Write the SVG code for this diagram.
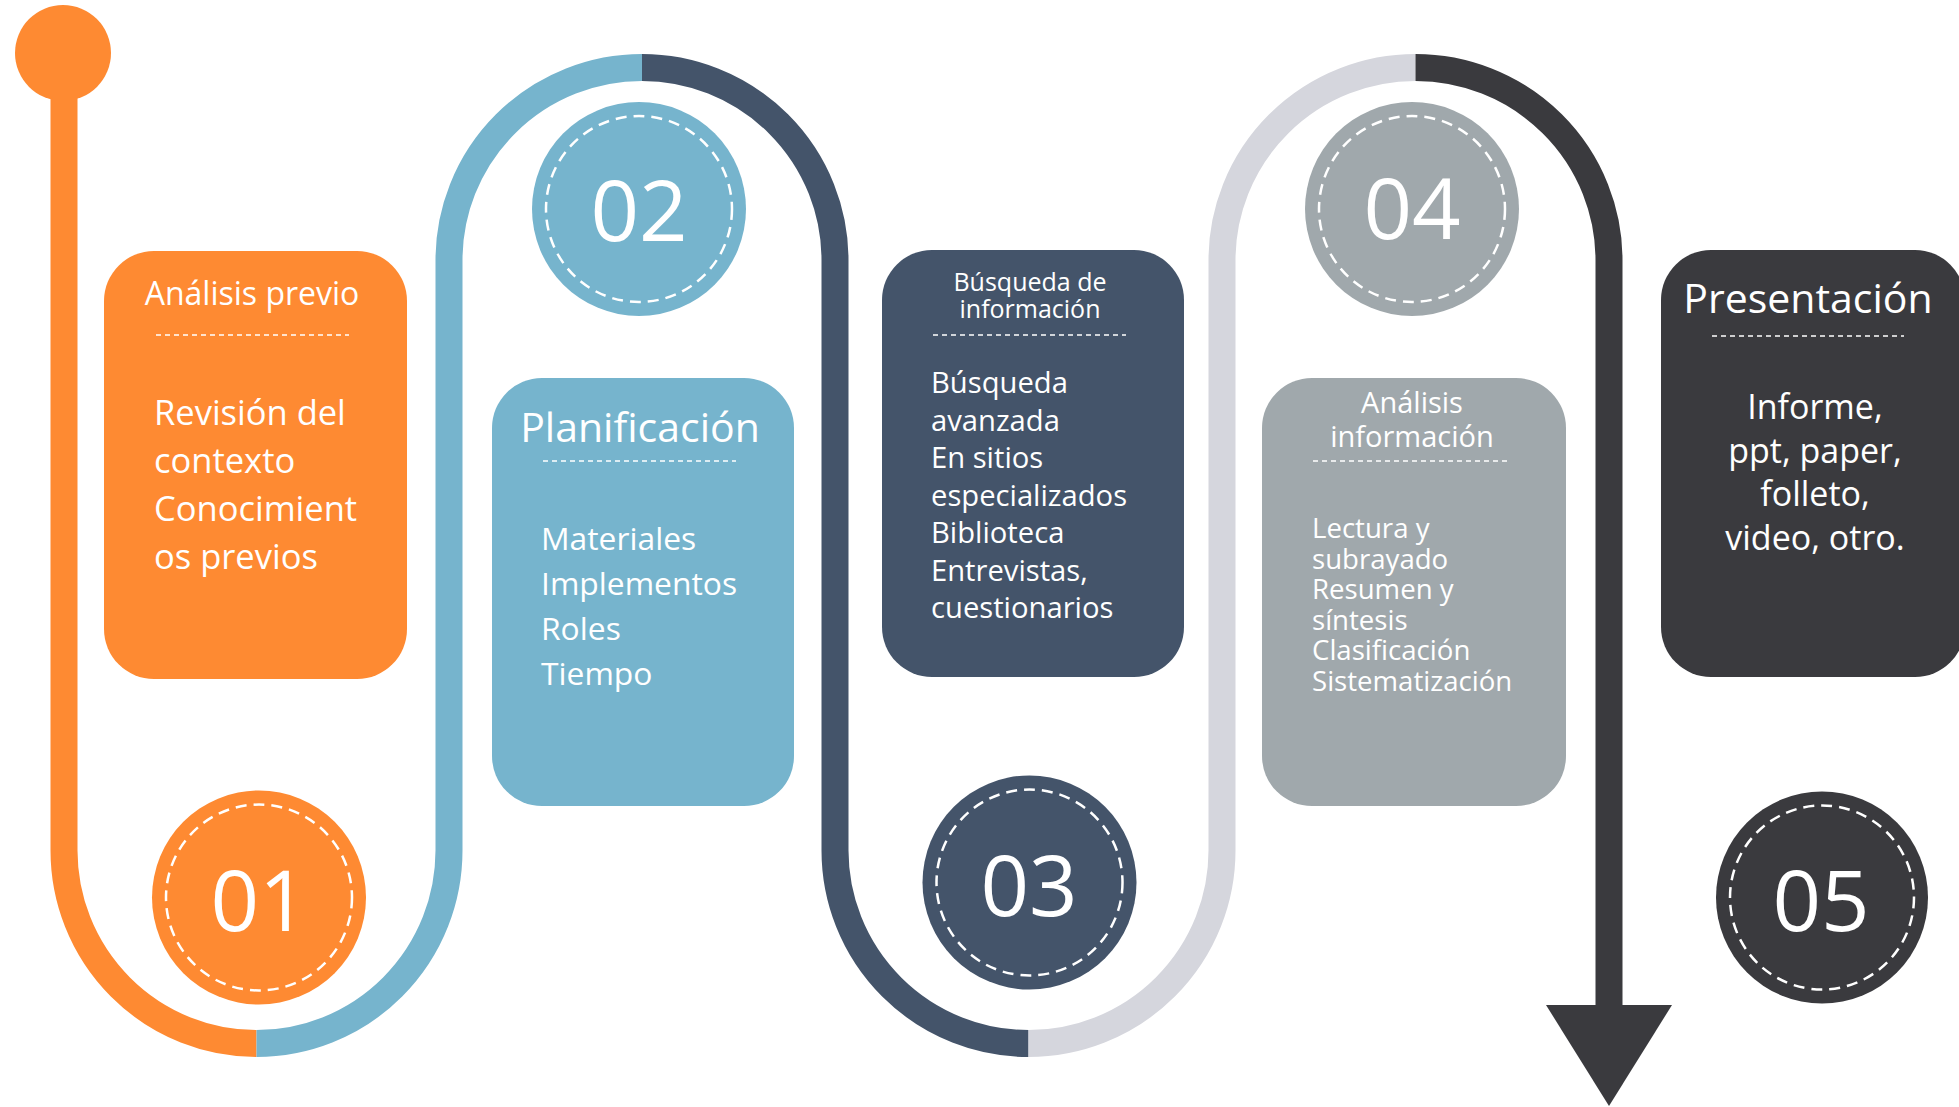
<svg xmlns="http://www.w3.org/2000/svg" width="1959" height="1107" viewBox="0 0 1959 1107">
<style>
text{font-family:"Open Sans","Noto Sans",sans-serif;fill:#fff}
.c{text-anchor:middle}
.num{font-size:85px;text-anchor:middle}
.track{fill:none;stroke-width:27}
.sep{stroke:#fff;stroke-width:1.3;stroke-dasharray:5 4;fill:none}
.ring{fill:none;stroke:#fff;stroke-width:2.5;stroke-dasharray:11 7}
</style>
<rect width="1959" height="1107" fill="#fff"/>
<g id="connectors">
<circle cx="63" cy="53" r="48" fill="#FE8A32"/>
<path class="track" stroke="#FE8A32" d="M64,53 V850.5 A192.5,193 0 0 0 256.5,1043.5"/>
<path class="track" stroke="#76B4CD" d="M256.5,1043.5 A192.5,193 0 0 0 449,850.5 V260 A193,192.5 0 0 1 642,67.5"/>
<path class="track" stroke="#44546A" d="M642,67.5 A193,192.5 0 0 1 835,260 V850.5 A193.5,193 0 0 0 1028.5,1043.5"/>
<path class="track" stroke="#D5D6DD" d="M1028.5,1043.5 A193.5,193 0 0 0 1222,850.5 V260 A193.5,192.5 0 0 1 1415.5,67.5"/>
<path class="track" stroke="#3A3A3E" d="M1415.5,67.5 A193.5,192.5 0 0 1 1609,260 V1006"/>
<polygon points="1546,1005 1672,1005 1609,1106" fill="#3A3A3E"/>
</g>
<g id="box1">
<rect x="104" y="251" width="303" height="428" rx="50" fill="#FE8A32"/>
<text class="c" x="252" y="305" font-size="32">Análisis previo</text>
<line class="sep" x1="156" y1="335" x2="349" y2="335"/>
<text font-size="34.5"><tspan x="154" y="425">Revisión del</tspan><tspan x="154" y="473">contexto</tspan><tspan x="154" y="521">Conocimient</tspan><tspan x="154" y="569">os previos</tspan></text>
</g>
<g id="box2">
<rect x="492" y="378" width="302" height="428" rx="50" fill="#76B4CD"/>
<text class="c" x="640" y="442" font-size="41">Planificación</text>
<line class="sep" x1="543" y1="461" x2="736" y2="461"/>
<text font-size="31.8"><tspan x="541" y="550">Materiales</tspan><tspan x="541" y="595">Implementos</tspan><tspan x="541" y="640">Roles</tspan><tspan x="541" y="685">Tiempo</tspan></text>
</g>
<g id="box3">
<rect x="882" y="250" width="302" height="427" rx="50" fill="#44546A"/>
<text class="c" font-size="25"><tspan x="1030" y="291">Búsqueda de</tspan><tspan x="1030" y="318">información</tspan></text>
<line class="sep" x1="933" y1="335" x2="1126" y2="335"/>
<text font-size="29.2"><tspan x="931" y="393">Búsqueda</tspan><tspan x="931" y="431">avanzada</tspan><tspan x="931" y="468">En sitios</tspan><tspan x="931" y="506">especializados</tspan><tspan x="931" y="543">Biblioteca</tspan><tspan x="931" y="581">Entrevistas,</tspan><tspan x="931" y="618">cuestionarios</tspan></text>
</g>
<g id="box4">
<rect x="1262" y="378" width="304" height="428" rx="50" fill="#A0A8AC"/>
<text class="c" font-size="29"><tspan x="1412" y="413">Análisis</tspan><tspan x="1412" y="447">información</tspan></text>
<line class="sep" x1="1313" y1="461" x2="1507" y2="461"/>
<text font-size="27.6"><tspan x="1312" y="538">Lectura y</tspan><tspan x="1312" y="568.6">subrayado</tspan><tspan x="1312" y="599.2">Resumen y</tspan><tspan x="1312" y="629.8">síntesis</tspan><tspan x="1312" y="660.4">Clasificación</tspan><tspan x="1312" y="691">Sistematización</tspan></text>
</g>
<g id="box5">
<rect x="1661" y="250" width="304" height="427" rx="50" fill="#3A3A3E"/>
<text class="c" x="1808" y="313" font-size="41">Presentación</text>
<line class="sep" x1="1712" y1="336" x2="1904" y2="336"/>
<text class="c" font-size="34"><tspan x="1815" y="419">Informe,</tspan><tspan x="1815" y="462.5">ppt, paper,</tspan><tspan x="1815" y="506">folleto,</tspan><tspan x="1815" y="550">video, otro.</tspan></text>
</g>
<g id="step01">
<circle cx="259" cy="897.5" r="107" fill="#FE8A32"/>
<circle class="ring" cx="259" cy="897.5" r="93"/>
<text class="num" x="259" y="931">01</text>
</g>
<g id="step02">
<circle cx="639" cy="209" r="107" fill="#76B4CD"/>
<circle class="ring" cx="639" cy="209" r="93"/>
<text class="num" x="639" y="241">02</text>
</g>
<g id="step03">
<circle cx="1029.5" cy="882.5" r="107" fill="#44546A"/>
<circle class="ring" cx="1029.5" cy="882.5" r="93"/>
<text class="num" x="1029" y="916">03</text>
</g>
<g id="step04">
<circle cx="1412" cy="209" r="107" fill="#A0A8AC"/>
<circle class="ring" cx="1412" cy="209" r="93"/>
<text class="num" x="1412" y="239">04</text>
</g>
<g id="step05">
<circle cx="1822" cy="897.5" r="106" fill="#3A3A3E"/>
<circle class="ring" cx="1822" cy="897.5" r="92"/>
<text class="num" x="1821" y="931">05</text>
</g>
</svg>
